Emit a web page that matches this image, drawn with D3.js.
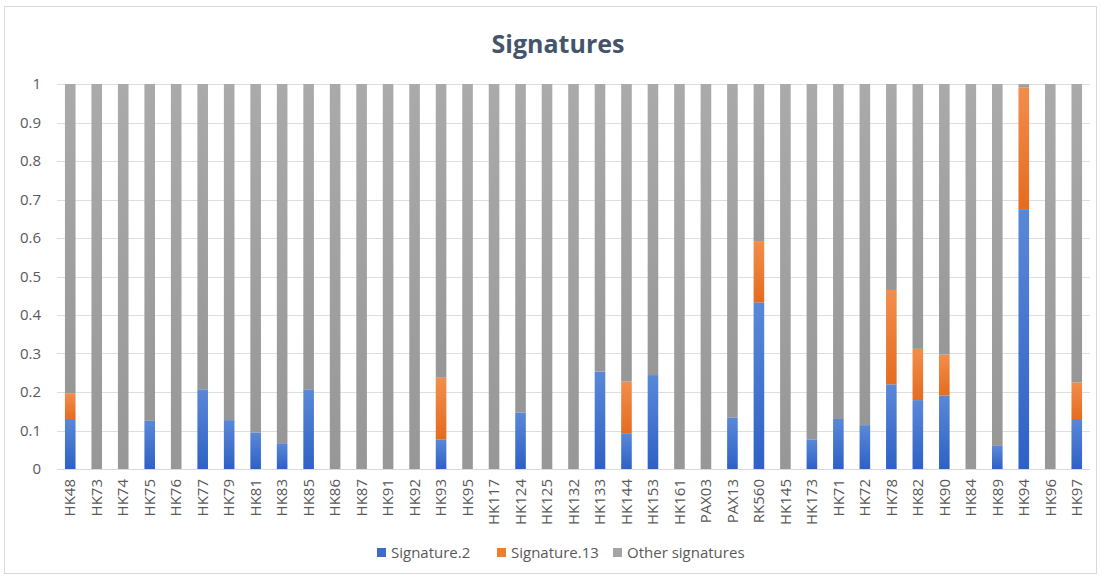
<!DOCTYPE html>
<html>
<head>
<meta charset="utf-8">
<script src="https://cdn.jsdelivr.net/npm/d3@7"></script>
<style>
  html, body { margin: 0; padding: 0; background: #ffffff; }
  svg { display: block; font-family: "Open Sans", "Noto Sans", sans-serif; }
</style>
</head>
<body>
<svg id="chart" width="1102" height="579"></svg>
<script>
// Samples along the x axis
const categories = ["HK48","HK73","HK74","HK75","HK76","HK77","HK79","HK81","HK83","HK85",
  "HK86","HK87","HK91","HK92","HK93","HK95","HK117","HK124","HK125","HK132",
  "HK133","HK144","HK153","HK161","PAX03","PAX13","RK560","HK145","HK173","HK71",
  "HK72","HK78","HK82","HK90","HK84","HK89","HK94","HK96","HK97"];

// Relative contribution of each signature per sample
const signature2 = [0.13,0,0,0.125,0,0.207,0.127,0.095,0.067,0.207,
  0,0,0,0,0.077,0,0,0.147,0,0,
  0.253,0.093,0.244,0,0,0.134,0.433,0,0.077,0.13,
  0.114,0.22,0.179,0.191,0,0.06,0.675,0,0.13];
const signature13 = [0.067,0,0,0,0,0,0,0,0,0,
  0,0,0,0,0.16,0,0,0,0,0,
  0,0.134,0,0,0,0,0.159,0,0,0,
  0,0.245,0.133,0.106,0,0,0.316,0,0.095];
const otherSignatures = [0.803,1,1,0.875,1,0.793,0.873,0.905,0.933,0.793,
  1,1,1,1,0.763,1,1,0.853,1,1,
  0.747,0.773,0.756,1,1,0.866,0.408,1,0.923,0.87,
  0.886,0.535,0.688,0.703,1,0.94,0.009,1,0.775];

const seriesNames = ["Signature.2", "Signature.13", "Other signatures"];
const yTicks = [0,0.1,0.2,0.3,0.4,0.5,0.6,0.7,0.8,0.9,1];

const colors = {
  "Signature.2": ["#5a88d8", "#2e61c6"],
  "Signature.13": ["#f38d4c", "#e46c1f"],
  "Other signatures": ["#aaaaaa", "#979797"]
};
const legendColors = {"Signature.2": "#3e6cc8", "Signature.13": "#ed7d31", "Other signatures": "#a5a5a5"};

const rows = categories.map((c, i) => ({
  name: c,
  "Signature.2": signature2[i],
  "Signature.13": signature13[i],
  "Other signatures": otherSignatures[i]
}));

const svg = d3.select("#chart");
const plot = {left: 57, right: 1090, top: 84, bottom: 469};

// Outer chart border
svg.append("rect")
  .attr("x", 4.5).attr("y", 6.5).attr("width", 1092).attr("height", 567)
  .attr("fill", "#ffffff").attr("stroke", "#d9d9d9").attr("stroke-width", 1);

// Gradients, lighter on top, darker at the base of each segment
const defs = svg.append("defs");
seriesNames.forEach((s, i) => {
  const g = defs.append("linearGradient").attr("id", "grad" + i)
    .attr("x1", 0).attr("y1", 0).attr("x2", 0).attr("y2", 1);
  g.append("stop").attr("offset", "0%").attr("stop-color", colors[s][0]);
  g.append("stop").attr("offset", "100%").attr("stop-color", colors[s][1]);
});

const x = d3.scaleBand().domain(categories).range([plot.left, plot.right])
  .paddingInner(0.6).paddingOuter(0.3);
const y = d3.scaleLinear().domain([0, 1]).range([plot.bottom, plot.top]);

// Title
svg.append("text")
  .attr("x", 558).attr("y", 53)
  .attr("text-anchor", "middle")
  .attr("font-size", 25).attr("font-weight", "bold")
  .attr("fill", "#44546a")
  .text("Signatures");

// Horizontal gridlines
svg.append("g").selectAll("line").data(yTicks.slice(1)).join("line")
  .attr("x1", plot.left).attr("x2", plot.right)
  .attr("y1", d => Math.round(y(d)) + 0.5).attr("y2", d => Math.round(y(d)) + 0.5)
  .attr("stroke", "#dedede").attr("stroke-width", 1);

// Y axis labels
const yAxis = d3.axisLeft(y).tickValues(yTicks).tickSize(0).tickPadding(0)
  .tickFormat(d => d3.format("~g")(d));
svg.append("g").attr("transform", `translate(${plot.left - 16},0)`).call(yAxis)
  .call(g => g.select(".domain").remove())
  .call(g => g.selectAll("text").attr("font-size", 15).attr("fill", "#595959")
    .attr("font-family", "'Open Sans', sans-serif"));

// Stacked bars
const stack = d3.stack().keys(seriesNames)(rows);
svg.append("g").selectAll("g").data(stack).join("g")
  .attr("fill", (d, i) => `url(#grad${i})`)
  .selectAll("rect").data(d => d).join("rect")
  .attr("x", d => x(d.data.name))
  .attr("width", x.bandwidth())
  .attr("y", d => y(d[1]))
  .attr("height", d => Math.max(0, y(d[0]) - y(d[1])));

// X axis
const xAxis = d3.axisBottom(x).tickSize(0).tickPadding(0);
svg.append("g").attr("transform", `translate(0,${plot.bottom})`).call(xAxis)
  .call(g => g.select(".domain").attr("stroke", "#d9d9d9").attr("d", `M${plot.left},0.5H${plot.right}`))
  .call(g => g.selectAll("text")
    .attr("font-size", 15).attr("fill", "#595959")
    .attr("font-family", "'Open Sans', sans-serif")
    .attr("text-anchor", "end")
    .attr("dy", "0.35em")
    .attr("transform", "translate(0,10) rotate(-90)"));

// Legend
const legendItems = [
  {name: "Signature.2", x: 377},
  {name: "Signature.13", x: 497},
  {name: "Other signatures", x: 613}
];
const lg = svg.append("g");
legendItems.forEach(it => {
  lg.append("rect").attr("x", it.x).attr("y", 548).attr("width", 9).attr("height", 9)
    .attr("fill", legendColors[it.name]);
  lg.append("text").attr("x", it.x + 14).attr("y", 558)
    .attr("font-size", 15).attr("fill", "#595959")
    .text(it.name);
});
</script>
</body>
</html>
